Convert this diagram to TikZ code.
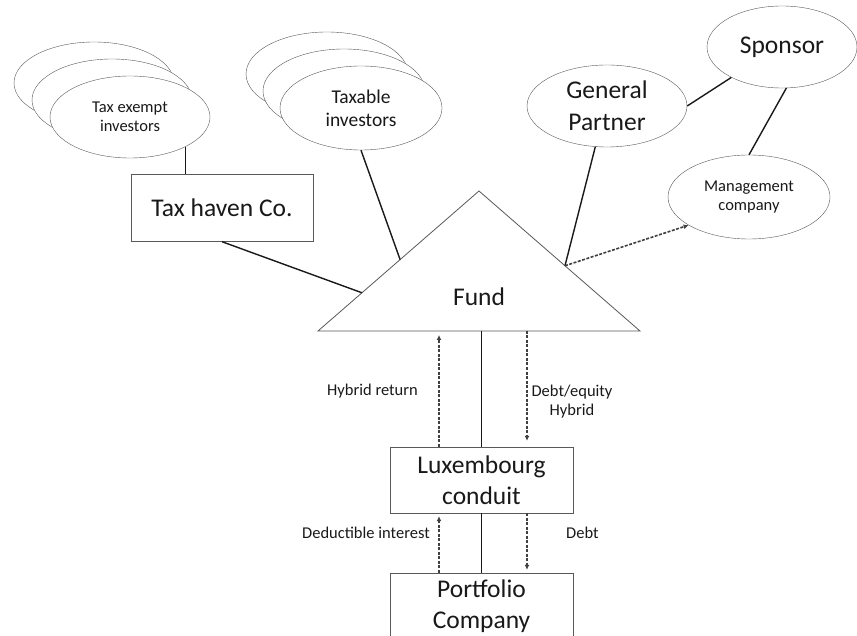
\documentclass[tikz,border=0pt]{standalone}
\usepackage{fontspec}
\setmainfont{Carlito}
\usetikzlibrary{shapes.geometric,arrows.meta,calc}

\begin{document}
\begin{tikzpicture}[x=1pt,y=-1pt,
    party/.style={draw=black!65,fill=white,ellipse,inner sep=0pt,align=center,text=black!90},
    entity/.style={draw=black!65,fill=white,rectangle,minimum width=183pt,minimum height=66pt,inner sep=0pt,align=center,text=black!90,font=\fontsize{25.5}{31}\selectfont},
    link/.style={black!90,line width=1.4pt},
    flow/.style={black!75,line width=1.6pt,dash pattern=on 3pt off 1.5pt,-{Latex[length=5pt,width=5pt]}},
    bigtext/.style={font=\fontsize{25.5}{32}\selectfont},
    midtext/.style={font=\fontsize{19.5}{23}\selectfont},
    smalltext/.style={font=\fontsize{16.5}{19}\selectfont,text=black!90,inner sep=0pt,align=center}]
    \useasboundingbox (0,0) rectangle (857,636);
    \node [party,minimum width=160pt,minimum height=82pt] (exempt3) at (94,83) {};
    \node [party,minimum width=160pt,minimum height=82pt] (exempt2) at (112,100) {};
    \node [party,minimum width=160pt,minimum height=82pt,smalltext,draw=black!65,fill=white] (exempt1) at (130,117) {Tax exempt\\investors};
    \node [party,minimum width=162pt,minimum height=84pt] (taxable3) at (327,74) {};
    \node [party,minimum width=162pt,minimum height=84pt] (taxable2) at (344,91) {};
    \node [party,minimum width=162pt,minimum height=84pt,midtext] (taxable1) at (361,108) {Taxable\\investors};
    \node [party,minimum width=160pt,minimum height=82pt,bigtext] (gp) at (607,106) {General\\Partner};
    \node [party,minimum width=150pt,minimum height=82pt,bigtext] (sponsor) at (782,47) {Sponsor};
    \node [party,minimum width=162pt,minimum height=84pt,smalltext,draw=black!65,fill=white] (mgmt) at (749,197) {Management\\company};
    \node [entity,minimum width=182pt,minimum height=67pt] (haven) at (222,208) {Tax haven Co.};
    \coordinate (fundleft) at (318,331);
    \coordinate (fundtop) at (479,191);
    \coordinate (fundright) at (640,331);
    \draw [draw=black!65,fill=white,line width=0.8pt] (fundleft) -- (fundtop) -- (fundright) -- cycle;
    \node [bigtext,text=black!90] (fund) at (479,297) {Fund};
    \node [entity] (lux) at (481.5,480) {Luxembourg\\conduit};
    \node [entity] (portfolio) at (481.5,606) {Portfolio\\Company};
    \coordinate (havenin) at ($(fundleft)!0.273!(fundtop)$);
    \coordinate (taxablein) at ($(fundleft)!0.51!(fundtop)$);
    \coordinate (gpin) at ($(fundright)!0.466!(fundtop)$);
    \draw [link] (exempt1.-28) -- (exempt1.-28 |- haven.north);
    \draw [link] (haven.south) -- (havenin);
    \draw [link] (taxable1.south) -- (taxablein);
    \draw [link] (gp.254) -- (gpin);
    \draw [link] (gp.east) -- (sponsor.211);
    \draw [link] (sponsor.-84) -- (mgmt.north);
    \draw [flow] (gpin) -- (mgmt.205);
    \draw [link] (lux.north) -- (lux.north |- fundleft);
    \draw [flow,shorten >=4pt] ([xshift=-42.5pt]lux.north) -- ([xshift=-42.5pt]lux.north |- fundleft);
    \draw [flow,shorten >=6pt] ([xshift=45.5pt]lux.north |- fundleft) -- ([xshift=45.5pt]lux.north);
    \draw [link] (lux.south) -- (portfolio.north);
    \draw [flow,shorten >=3pt] ([xshift=-42.5pt]portfolio.north) -- ([xshift=-42.5pt]lux.south);
    \draw [flow,shorten >=3pt] ([xshift=45.5pt]lux.south) -- ([xshift=45.5pt]portfolio.north);
    \node [smalltext,anchor=east] (hybridret) at (418,391) {Hybrid return};
    \node [smalltext] (debteq) at (572,402) {Debt/equity\\Hybrid};
    \node [smalltext,anchor=east] (deductible) at (430,533) {Deductible interest};
    \node [smalltext,anchor=west] (debt) at (566,533) {Debt};
\end{tikzpicture}
\end{document}
